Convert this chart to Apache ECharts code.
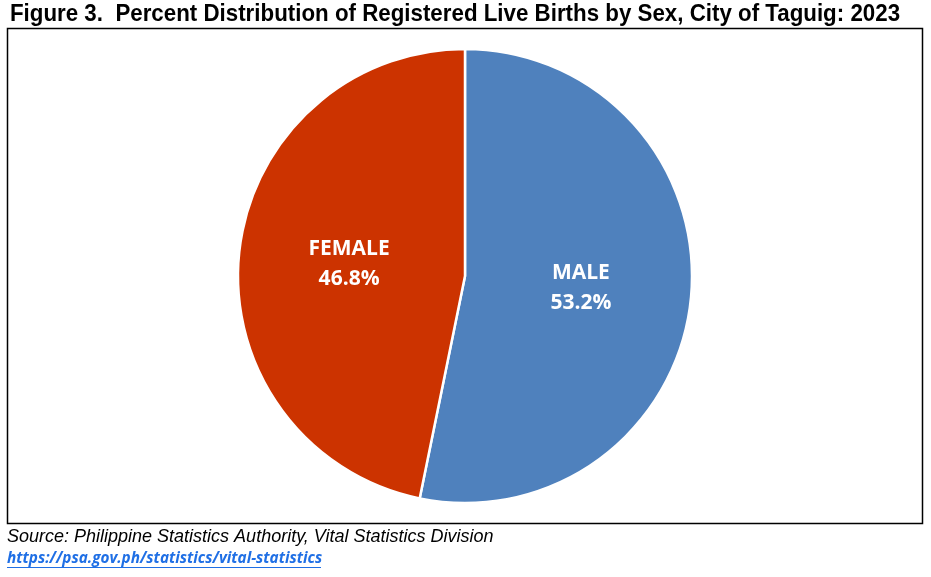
<!DOCTYPE html>
<html><head><meta charset="utf-8">
<script src="https://cdn.jsdelivr.net/npm/echarts@6/dist/echarts.min.js"></script>
<style>html,body{margin:0;padding:0;background:#fff}#c{width:931px;height:577px}</style>
</head><body><div id="c"></div>
<script>
const categories = ['MALE', 'FEMALE'];
const values = [53.2, 46.8];
const colors = ['#4F81BD', '#CC3300'];
const titleText = 'Figure 3.  Percent Distribution of Registered Live Births by Sex, City of Taguig: 2023';
const sourceText = 'Source: Philippine Statistics Authority, Vital Statistics Division';
const linkText = 'https://psa.gov.ph/statistics/vital-statistics';

const chart = echarts.init(document.getElementById('c'));
chart.setOption({
  animation: false,
  backgroundColor: '#fff',
  graphic: [
    { type: 'text', x: 455, y: 2, scaleX: 0.93, originX: 0, originY: 0,
      style: { text: titleText, x: 0, y: 0, textAlign: 'center', textVerticalAlign: 'top',
        font: 'bold 24px "Liberation Sans", Arial, sans-serif', fill: '#000' } },
    { type: 'rect', shape: { x: 7.5, y: 28.5, width: 915, height: 495 }, style: { fill: 'none', stroke: '#000', lineWidth: 1.5 }, z: -1 },
    { type: 'text', left: 7, top: 528, style: { text: sourceText, font: 'italic 18px "Liberation Sans", Arial, sans-serif', fill: '#000' } },
    { type: 'text', left: 7, top: 551, style: { text: linkText, font: 'italic bold 15.3px "Open Sans", "Liberation Sans", sans-serif', fill: '#1F6FE5' } },
    { type: 'line', shape: { x1: 7, y1: 567.5, x2: 321, y2: 567.5 }, style: { stroke: '#1F6FE5', lineWidth: 1 } }
  ],
  series: [{
    type: 'pie',
    center: [465, 276],
    radius: 227,
    startAngle: 90,
    clockwise: true,
    data: categories.map((n, i) => ({ name: n, value: values[i], itemStyle: { color: colors[i] } })),
    itemStyle: { borderColor: '#fff', borderWidth: 2.5 },
    label: {
      show: true, position: 'inside',
      formatter: p => p.name + '\n' + p.value.toFixed(1) + '%',
      color: '#fff', fontWeight: 'bold', fontSize: 21, lineHeight: 30,
      fontFamily: '"Open Sans", Lato, sans-serif'
    },
    labelLine: { show: false },
    emphasis: { disabled: true }
  }]
});
</script></body></html>
